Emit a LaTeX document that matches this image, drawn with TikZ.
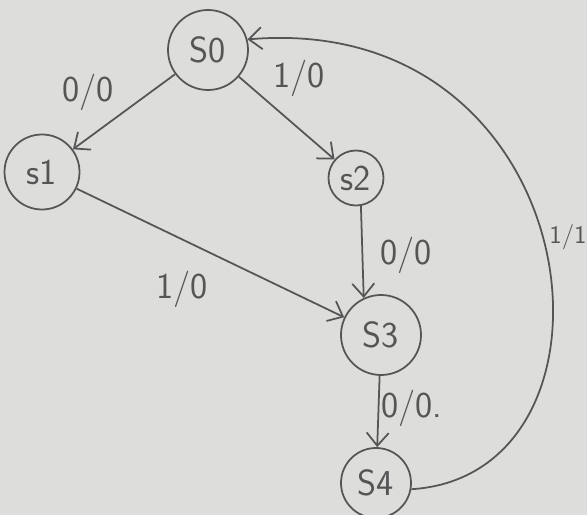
\documentclass[tikz,border=0pt]{standalone}
\usepackage{tikz}
\definecolor{Paper}{RGB}{221,221,219}
\definecolor{Pencil}{RGB}{85,85,85}
\usetikzlibrary{arrows.meta, positioning}

\begin{document}
\begin{tikzpicture}
        % Mealy machine, hand-sketched look
        \tikzset{
          state/.style={circle, draw=Pencil, line width=1pt, inner sep=0pt, font=\huge\sffamily, text=Pencil},
          trans/.style={Pencil, line width=1pt, -{Straight Barb[length=2.6mm, width=4.4mm]}},
          io/.style={font=\huge\sffamily, text=Pencil}
        }

        % Paper
        \useasboundingbox[fill=Paper] (0, 0) rectangle (11.74, 10.3);

        % States
        \node[state, minimum size=1.6cm] (s0) at (4.16, 9.3) {S0};
        \node[state, minimum size=1.5cm] (s1) at (0.84, 6.86) {s1};
        \node[state, minimum size=1.1cm] (s2) at (7.12, 6.74) {s2};
        \node[state, minimum size=1.6cm] (s3) at (7.62, 3.6) {S3};
        \node[state, minimum size=1.4cm] (s4) at (7.52, 0.64) {S4};

        % Transitions
        \draw[trans] (s0) -- (s1);
        \draw[trans] (s0) -- (s2);
        \draw[trans] (s1) -- (s3);
        \draw[trans] (s2.-80) -- (s3.115);
        \draw[trans] (s3) -- (s4);
        \draw[trans] (s4.-10) .. controls (12.85, 0.8) and (11.85, 10.1) .. (s0.15);

        % Input/output labels
        \node[io] (l01) at (1.76, 8.46) {0/0};
        \node[io] (l02) at (5.98, 8.74) {1/0};
        \node[io] (l13) at (3.64, 4.52) {1/0};
        \node[io] (l23) at (8.12, 5.2) {0/0};
        \node[io] (l34) at (8.24, 2.14) {0/0.};
        \node[io, font=\Large\sffamily, inner sep=0pt] (l40) at (11.36, 5.56) {1/1};
      \end{tikzpicture}
\end{document}
